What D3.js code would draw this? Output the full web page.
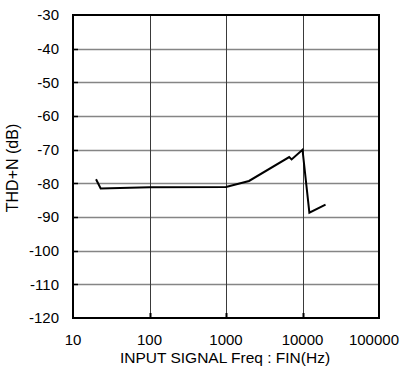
<!DOCTYPE html>
<html>
<head>
<meta charset="utf-8">
<script src="https://cdn.jsdelivr.net/npm/d3@7"></script>
<style>
  html, body { margin: 0; padding: 0; background: #fff; }
  svg { display: block; }
  text { font-family: Arial, "Liberation Sans", sans-serif; fill: #000; }
</style>
</head>
<body>
<svg id="chart" width="403" height="369"></svg>
<script>
// THD+N versus input frequency
const freqHz = [20, 23, 100, 1000, 2000, 6700, 7200, 10000, 12300, 20000];
const thdDb  = [-78.8, -81.5, -81.2, -81.1, -79.3, -72.2, -72.9, -70.0, -88.7, -86.3];

const xTicks = [10, 100, 1000, 10000, 100000];
const yTicks = [-30, -40, -50, -60, -70, -80, -90, -100, -110, -120];

const plot = { left: 73, right: 379, top: 15, bottom: 318 };
const fontSize = 15;

const svg = d3.select("#chart");

const x = d3.scaleLog().domain([10, 100000]).range([plot.left, plot.right]);
const y = d3.scaleLinear().domain([-120, -30]).range([plot.bottom, plot.top]);

// horizontal grid
svg.append("g")
  .selectAll("line")
  .data(yTicks.filter(v => v > -120 && v < -30))
  .join("line")
  .attr("x1", plot.left).attr("x2", plot.right)
  .attr("y1", d => Math.round(y(d)) + 0.5).attr("y2", d => Math.round(y(d)) + 0.5)
  .attr("stroke", "#858585").attr("stroke-width", 1.3);

// vertical grid
svg.append("g")
  .selectAll("line")
  .data(xTicks.filter(v => v > 10 && v < 100000))
  .join("line")
  .attr("x1", d => Math.round(x(d)) + 0.5).attr("x2", d => Math.round(x(d)) + 0.5)
  .attr("y1", plot.top).attr("y2", plot.bottom)
  .attr("stroke", "#3a3a3a").attr("stroke-width", 1);

// inner tick marks
svg.append("g")
  .selectAll("line")
  .data(yTicks.filter(v => v > -120 && v < -30))
  .join("line")
  .attr("x1", plot.left).attr("x2", plot.left + 5)
  .attr("y1", d => Math.round(y(d)) + 0.5).attr("y2", d => Math.round(y(d)) + 0.5)
  .attr("stroke", "#000").attr("stroke-width", 1.5);

svg.append("g")
  .selectAll("line")
  .data(xTicks.filter(v => v > 10 && v < 100000))
  .join("line")
  .attr("x1", d => Math.round(x(d)) + 0.5).attr("x2", d => Math.round(x(d)) + 0.5)
  .attr("y1", plot.bottom).attr("y2", plot.bottom - 5)
  .attr("stroke", "#000").attr("stroke-width", 2);

// frame
svg.append("rect")
  .attr("x", plot.left).attr("y", plot.top)
  .attr("width", plot.right - plot.left).attr("height", plot.bottom - plot.top)
  .attr("fill", "none").attr("stroke", "#000").attr("stroke-width", 2);

// data curve
const line = d3.line().x((d, i) => x(freqHz[i])).y(d => y(d));
svg.append("path")
  .datum(thdDb)
  .attr("d", line)
  .attr("fill", "none")
  .attr("stroke", "#000")
  .attr("stroke-width", 2)
  .attr("stroke-linejoin", "miter");

// tick labels
svg.append("g")
  .selectAll("text")
  .data(yTicks)
  .join("text")
  .attr("x", 59)
  .attr("y", d => y(d))
  .attr("dy", "0.35em")
  .attr("text-anchor", "end")
  .attr("font-size", fontSize)
  .text(d => d);

// the last frequency label is pulled in so it stays inside the canvas
svg.append("g")
  .selectAll("text")
  .data(xTicks)
  .join("text")
  .attr("x", (d, i) => i === xTicks.length - 1 ? 399 : x(d))
  .attr("y", 345)
  .attr("text-anchor", (d, i) => i === xTicks.length - 1 ? "end" : "middle")
  .attr("font-size", fontSize)
  .text(d => d);

// axis titles
svg.append("text")
  .attr("x", 225)
  .attr("y", 363)
  .attr("text-anchor", "middle")
  .attr("font-size", 15.5)
  .text("INPUT SIGNAL Freq : FIN(Hz)");

svg.append("text")
  .attr("transform", "translate(18,168) rotate(-90)")
  .attr("text-anchor", "middle")
  .attr("font-size", 16)
  .text("THD+N (dB)");
</script>
</body>
</html>
